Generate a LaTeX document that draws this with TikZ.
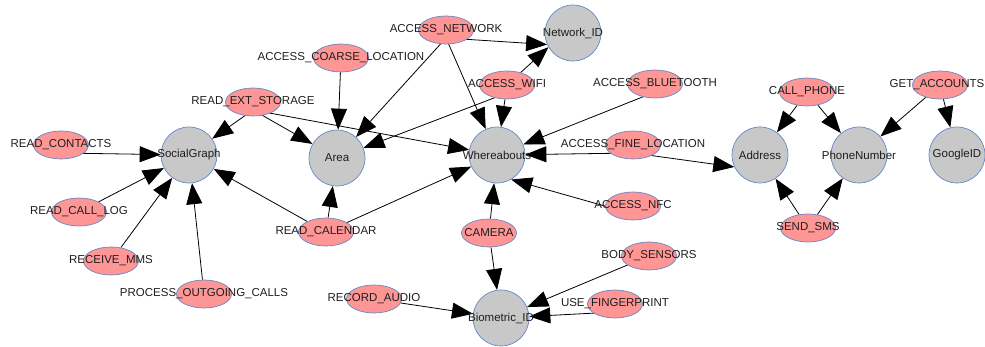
\documentclass[tikz,border=0pt]{standalone}
\usepackage{fontspec}
\setmainfont{Liberation Sans}
\usetikzlibrary{arrows.meta,shapes.geometric}
\definecolor{permpink}{RGB}{255,150,150}
\definecolor{datagray}{RGB}{200,200,200}
\definecolor{outlineblue}{RGB}{100,135,200}
\definecolor{labelblack}{RGB}{30,30,30}
\pgfdeclarelayer{edgelayer}
\pgfsetlayers{edgelayer,main}

\begin{document}
\begin{tikzpicture}[x=1pt,y=-1pt,
    perm/.style={draw=outlineblue, fill=permpink, ellipse, line width=0.7pt,
        minimum width=55pt, minimum height=28pt, inner sep=0pt},
    data/.style={draw=outlineblue, fill=datagray, circle, line width=0.7pt,
        minimum size=56pt, inner sep=0pt},
    every label/.style={text=labelblack, font=\fontsize{11.5}{13}\selectfont, inner sep=0pt},
    edge/.style={draw=black, line width=0.8pt, -{Triangle[length=21pt,width=16pt]}}]
    \useasboundingbox (0,0) rectangle (985,347);

    % Data nodes
    \node[data, label=center:{SocialGraph}] (social) at (189,155) {};
    \node[data, label=center:{Area}] (area) at (337,158) {};
    \node[data, label=center:{Whereabouts}] (where) at (497,155) {};
    \node[data, label=center:{Network\_ID}] (netid) at (573,33) {};
    \node[data, label=center:{Biometric\_ID}] (bio) at (501,318) {};
    \node[data, label=center:{Address}] (addr) at (760,155) {};
    \node[data, label=center:{PhoneNumber}] (phone) at (859,155) {};
    \node[data, label=center:{GoogleID}] (gid) at (957,155) {};

    % Permission nodes, left
    \node[perm, label=center:{READ\_CONTACTS}] (rcontacts) at (61,145) {};
    \node[perm, label=center:{READ\_CALL\_LOG}] (rcalllog) at (79,212) {};
    \node[perm, label=center:{RECEIVE\_MMS}] (rmms) at (111,261) {};
    \node[perm, label=center:{PROCESS\_OUTGOING\_CALLS}] (poc) at (204,294) {};
    \node[perm, label=center:{READ\_EXT\_STORAGE}] (rext) at (253,102) {};
    \node[perm, label=center:{READ\_CALENDAR}] (rcal) at (326,232) {};

    % Permission nodes, middle
    \node[perm, label=center:{ACCESS\_COARSE\_LOCATION}] (acoarse) at (341,58) {};
    \node[perm, label=center:{ACCESS\_NETWORK}] (anet) at (446,30) {};
    \node[perm, label=center:{ACCESS\_WIFI}] (awifi) at (507,85) {};
    \node[perm, label=center:{ACCESS\_BLUETOOTH}] (abt) at (655,84) {};
    \node[perm, label=center:{ACCESS\_FINE\_LOCATION}] (afine) at (633,145) {};
    \node[perm, label=center:{ACCESS\_NFC}] (anfc) at (633,206) {};
    \node[perm, label=center:{CAMERA}] (camera) at (489,233) {};
    \node[perm, label=center:{BODY\_SENSORS}] (bodys) at (649,256) {};
    \node[perm, label=center:{USE\_FINGERPRINT}] (finger) at (615,304) {};
    \node[perm, label=center:{RECORD\_AUDIO}] (raudio) at (374,299) {};

    % Permission nodes, right
    \node[perm, label=center:{CALL\_PHONE}] (callp) at (807,92) {};
    \node[perm, label=center:{SEND\_SMS}] (sms) at (808,228) {};
    \node[perm, label={[xshift=-3pt]center:{GET\_ACCOUNTS}}] (getacc) at (940,85) {};

    \begin{pgfonlayer}{edgelayer}
    % Into SocialGraph
    \draw[edge] ([yshift=-8pt]rcontacts.center) -- (social);
    \draw[edge] (rcalllog) -- (social);
    \draw[edge] (rmms) -- (social);
    \draw[edge] (poc) -- (social);
    \draw[edge] ([yshift=-8pt]rext.center) -- (social);
    \draw[edge] (rcal) -- (social);

    % Into Area
    \draw[edge] ([yshift=-8pt]rext.center) -- (area);
    \draw[edge] (acoarse) -- (area);
    \draw[edge] ([yshift=-8pt]anet.center) -- (area);
    \draw[edge] ([yshift=-8pt]awifi.center) -- (area);
    \draw[edge] (rcal) -- (area);

    % Into Whereabouts
    \draw[edge] ([yshift=-8pt]rext.center) -- (where);
    \draw[edge] ([yshift=-8pt]anet.center) -- (where);
    \draw[edge] (awifi) -- (where);
    \draw[edge] ([yshift=-8pt]abt.center) -- (where);
    \draw[edge] ([yshift=-8pt]afine.center) -- (where);
    \draw[edge] ([yshift=-8pt]anfc.center) -- (where.-60);
    \draw[edge] (rcal) -- (where);
    \draw[edge] (camera) -- (where);

    % Into Network_ID
    \draw[edge] ([yshift=-8pt]anet.center) -- (netid.204);
    \draw[edge] (awifi) -- (netid.210);

    % Into Biometric_ID
    \draw[edge] (camera) -- (bio);
    \draw[edge] (raudio) -- (bio);
    \draw[edge] (bodys) -- (bio);
    \draw[edge] ([yshift=-8pt]finger.center) -- (bio);

    % Right group
    \draw[edge] ([yshift=-8pt]afine.center) -- (addr.205);
    \draw[edge] (callp) -- (addr);
    \draw[edge] (callp) -- (phone);
    \draw[edge] (sms) -- (addr);
    \draw[edge] (sms) -- (phone);
    \draw[edge] (getacc) -- (phone);
    \draw[edge] (getacc) -- (gid);
    \end{pgfonlayer}
\end{tikzpicture}
\end{document}
